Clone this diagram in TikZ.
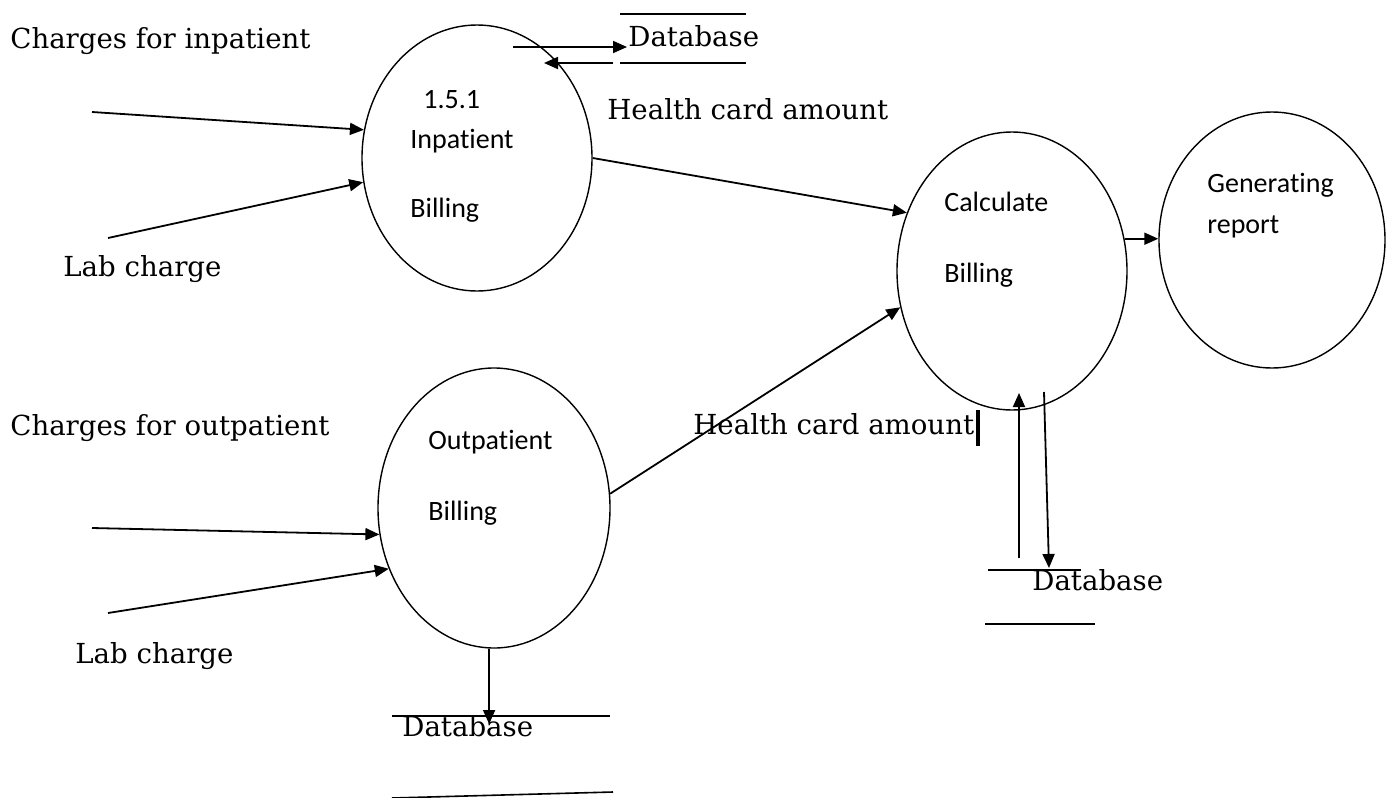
\documentclass[tikz,border=0pt]{standalone}
\usepackage{fontspec}
\setmainfont{DejaVu Serif}
\newfontfamily\calib[Ligatures=NoCommon]{Carlito}
\usetikzlibrary{shapes.geometric,arrows.meta}

\begin{document}
\begin{tikzpicture}[x=0.5pt, y=-0.5pt,
    proc/.style={draw, ellipse, line width=0.7pt, inner sep=0pt},
    flow/.style={line width=0.9pt, -{Triangle[length=7pt, width=6pt]}},
    store/.style={line width=0.8pt},
    lbl/.style={anchor=west, inner sep=0pt, yshift=-1.2pt, font=\fontsize{13.8}{16}\selectfont, text height=1.5ex, text depth=.25ex},
    ptxt/.style={anchor=west, inner sep=0pt, yshift=-1.2pt, font=\calib\fontsize{14}{16}\selectfont, text height=1.5ex, text depth=.25ex}]
            \useasboundingbox (0,0) rectangle (1393,798);

            \node[proc, minimum width=115pt, minimum height=133pt] (inbill) at (477,158) {};
            \node[proc, minimum width=116pt, minimum height=140pt] (outbill) at (494,508) {};
            \node[proc, minimum width=115pt, minimum height=139pt] (calcbill) at (1012,271) {};
            \node[proc, minimum width=113pt, minimum height=128pt] (genrep) at (1272,240) {};

            \node[ptxt] (innum) at (423,100) {1.5.1};
            \node[ptxt] (intxt) at (410,140) {Inpatient};
            \node[ptxt] (inbil) at (410,209) {Billing};
            \node[ptxt] (outtxt) at (428,441) {Outpatient};
            \node[ptxt] (outbil) at (428,512) {Billing};
            \node[ptxt] (calctxt) at (944,203) {Calculate};
            \node[ptxt] (calcbil) at (944,274) {Billing};
            \node[ptxt] (gentxt) at (1207,184) {Generating};
            \node[ptxt] (genrpt) at (1207,225) {report};

            \node[lbl] (inchg) at (10,40) {Charges for inpatient};
            \node[lbl] (inlab) at (63,268) {Lab charge};
            \node[lbl] (outchg) at (10,427) {Charges for outpatient};
            \node[lbl] (outlab) at (75,655) {Lab charge};
            \node[lbl] (hcatop) at (607,111) {Health card amount};
            \node[lbl] (hcabot) at (693,426) {Health card amount};
            \node[lbl] (dbtop) at (628,38) {Database};
            \node[lbl] (dbcalc) at (1032,582) {Database};
            \node[lbl] (dbout) at (402,728) {Database};

            \draw[store] (620,14) -- (746,14);
            \draw[store] (620,63) -- (746,63);
            \draw[store] (988,570) -- (1081,570);
            \draw[store] (985,624) -- (1095,624);
            \draw[store] (392,716) -- (610,716);
            \draw[store] (392,798) -- (613,792);
            \draw[line width=1.6pt] (978,410) -- (978,446);

            \coordinate (inA) at (92,112);
            \coordinate (inB) at (108,238);
            \coordinate (outA) at (92,528);
            \coordinate (outB) at (108,613);
            \coordinate (toS) at (513,47);
            \coordinate (toE) at (627,47);
            \coordinate (frS) at (613,63);
            \coordinate (frE) at (544,63);
            \coordinate (upS) at (1019,558);
            \coordinate (upE) at (1019,393);
            \coordinate (dnS) at (1044,392);
            \coordinate (dnE) at (1049,568);
            \coordinate (odb) at (487,724);

            \draw[flow] (inA) -- (inbill.166);
            \draw[flow] (inB) -- (inbill.192);
            \draw[flow] (outA) -- (outbill.193);
            \draw[flow] (outB) -- (outbill.210);
            \draw[flow] (toS) -- (toE);
            \draw[flow] (frS) -- (frE);
            \draw[flow] (inbill.east) -- (calcbill.151);
            \draw[flow] (outbill.7) -- (calcbill.198);
            \draw[flow] (calcbill.16) -- (calcbill.16 -| genrep.west);
            \draw[flow] (upS) -- (upE);
            \draw[flow] (dnS) -- (dnE);
            \draw[flow] (outbill.268) -- (outbill.268 |- odb);
        \end{tikzpicture}
\end{document}
